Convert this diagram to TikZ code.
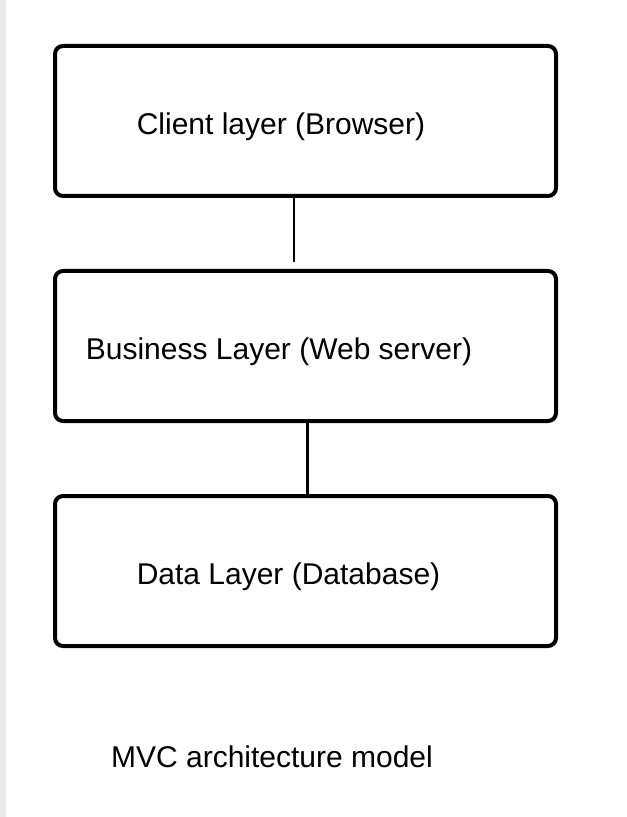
\documentclass[tikz,border=0pt]{standalone}
\usepackage{fontspec}
\setmainfont{Liberation Sans}
\usetikzlibrary{positioning}
\definecolor{StripGray}{RGB}{234,234,234}

\begin{document}
\begin{tikzpicture}[
    x=0.5pt, y=-0.5pt,
    layer/.style={rectangle,draw,line width=2pt,rounded corners=4pt,minimum width=250.5pt,minimum height=75pt},
    txt/.style={font=\fontsize{15}{18}\selectfont,inner sep=0pt},
    link/.style={line width=1.2pt}
]
\useasboundingbox (0,0) rectangle (626,817);
\fill[StripGray] (0,0) rectangle (6,817);

\node[layer] (client) at (305.5,121) {};
\node[layer] (business) at (305.5,346) {};
\node[layer] (data) at (305.5,571) {};

\node[txt] (clienttxt) at (281,127) {Client layer (Browser)};
\node[txt] (businesstxt) at (279,352) {Business Layer (Web server)};
\node[txt] (datatxt) at (288.5,577) {Data Layer (Database)};

\coordinate (gap) at (294,262);
\coordinate (mid) at (307,421);
\draw[link] (client.south -| gap) -- (gap);
\draw[link,line width=1.5pt] (business.south -| mid) -- (data.north -| mid);

\node[txt] (caption) at (272,757) {MVC architecture model};
\end{tikzpicture}
\end{document}
